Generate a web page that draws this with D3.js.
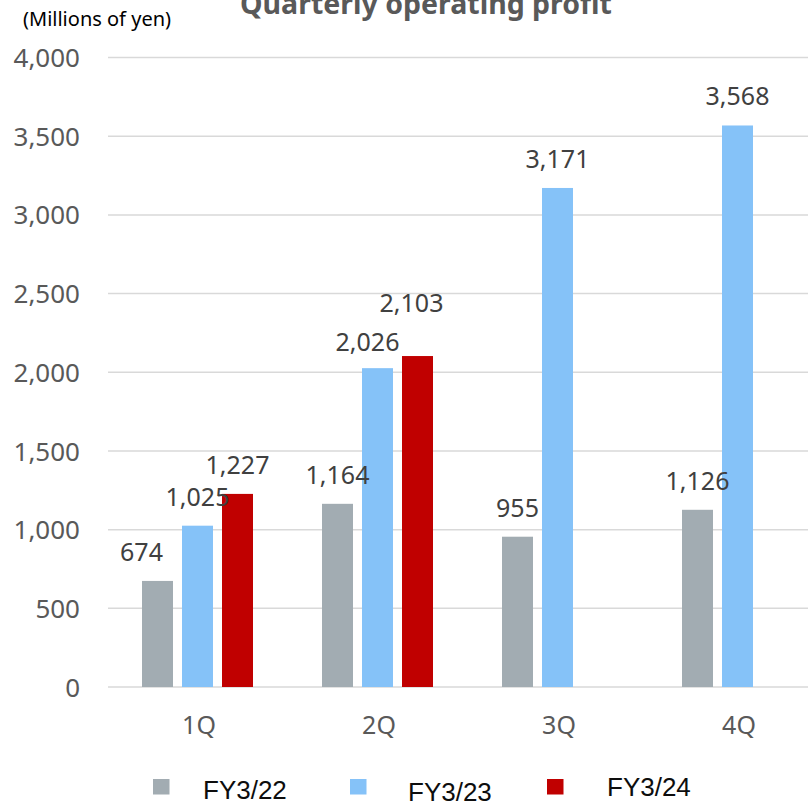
<!DOCTYPE html>
<html>
<head>
<meta charset="utf-8">
<script src="https://cdn.jsdelivr.net/npm/d3@7"></script>
<style>
  html, body { margin: 0; padding: 0; background: #fff; }
  svg { display: block; }
</style>
</head>
<body>
<svg id="chart" width="808" height="802"></svg>
<script>
// ---- data ----
const categories = ["1Q", "2Q", "3Q", "4Q"];
const seriesNames = ["FY3/22", "FY3/23", "FY3/24"];
const fy22 = [674, 1164, 955, 1126];
const fy23 = [1025, 2026, 3171, 3568];
const fy24 = [1227, 2103, null, null];
const yTicks = [0, 500, 1000, 1500, 2000, 2500, 3000, 3500, 4000];
const titleText = "Quarterly operating profit";
const unitText = "(Millions of yen)";

// ---- styles ----
const colors = ["#a2acb2", "#85c2f8", "#c00000"];
// manual label nudges (layout only), keyed "series|category"
const labelNudge = {
  "0|0": [-16, 0],
  "1|1": [-10, 3],
  "2|1": [-6, -24]
};

const seriesValues = [fy22, fy23, fy24];
const svg = d3.select("#chart");

const x0 = d3.scaleBand().domain(categories).range([107.5, 827.5]).paddingInner(0).paddingOuter(0);
const x1 = d3.scaleBand().domain(d3.range(seriesNames.length)).range([34.5, 145.5]).paddingInner(0.225);
const y = d3.scaleLinear().domain([0, 4000]).range([687, 57.5]);

// gridlines
svg.append("g")
  .selectAll("line")
  .data(yTicks)
  .join("line")
  .attr("x1", 108).attr("x2", 808)
  .attr("y1", d => y(d)).attr("y2", d => y(d))
  .attr("stroke", "#d9d9d9")
  .attr("stroke-width", 1.5);

// y axis labels
const yAxis = d3.axisLeft(y).tickValues(yTicks).tickSize(0).tickPadding(0).tickFormat(d3.format(","));
const gy = svg.append("g").attr("transform", "translate(80,0)").call(yAxis);
gy.select(".domain").remove();
gy.selectAll("text")
  .attr("font-family", "'Noto Sans', sans-serif")
  .attr("font-size", 26)
  .attr("fill", "#595959")
  .attr("dy", "0.35em");

// x axis labels
const xAxis = d3.axisBottom(x0).tickSize(0).tickPadding(0);
const gx = svg.append("g").attr("transform", "translate(1.5,0)").call(xAxis);
gx.select(".domain").remove();
gx.selectAll("text")
  .attr("y", 734)
  .attr("dy", 0)
  .attr("font-family", "'Noto Sans', sans-serif")
  .attr("font-size", 25)
  .attr("fill", "#595959");

// bars
const flat = [];
seriesValues.forEach((vals, si) => {
  vals.forEach((v, ci) => {
    if (v !== null && v !== undefined) flat.push({ si, ci, v });
  });
});

svg.append("g")
  .selectAll("rect")
  .data(flat)
  .join("rect")
  .attr("x", d => x0(categories[d.ci]) + x1(d.si))
  .attr("width", x1.bandwidth())
  .attr("y", d => y(d.v))
  .attr("height", d => y(0) - y(d.v))
  .attr("fill", d => colors[d.si]);

// data labels
svg.append("g")
  .selectAll("text")
  .data(flat)
  .join("text")
  .attr("x", d => {
    const n = labelNudge[d.si + "|" + d.ci];
    return x0(categories[d.ci]) + x1(d.si) + x1.bandwidth() / 2 + (n ? n[0] : 0);
  })
  .attr("y", d => {
    const n = labelNudge[d.si + "|" + d.ci];
    return y(d.v) - 20 + (n ? n[1] : 0);
  })
  .attr("text-anchor", "middle")
  .attr("font-family", "'Noto Sans', sans-serif")
  .attr("font-size", 25)
  .attr("fill", "#404040")
  .text(d => d3.format(",")(d.v));

// title
svg.append("text")
  .attr("x", 426).attr("y", 14)
  .attr("text-anchor", "middle")
  .attr("font-family", "'Noto Sans', sans-serif")
  .attr("font-weight", "bold")
  .attr("font-size", 28.5)
  .attr("fill", "#595959")
  .text(titleText);

// unit
svg.append("text")
  .attr("x", 23).attr("y", 26)
  .attr("font-family", "'Noto Sans', sans-serif")
  .attr("font-size", 20)
  .attr("fill", "#000")
  .text(unitText);

// legend
const legendSquareX = [153, 350, 547];
const legendTextX = [203, 408, 607];
const legendBaseline = [799, 801, 796];
const lg = svg.append("g");
seriesNames.forEach((name, i) => {
  lg.append("rect")
    .attr("x", legendSquareX[i]).attr("y", 779)
    .attr("width", 16.5).attr("height", 15.5)
    .attr("fill", colors[i]);
  lg.append("text")
    .attr("x", legendTextX[i]).attr("y", legendBaseline[i])
    .attr("font-family", "'Liberation Sans', Arial, sans-serif")
    .attr("font-size", 26)
    .attr("fill", "#0d0d0d")
    .text(name);
});
</script>
</body>
</html>
